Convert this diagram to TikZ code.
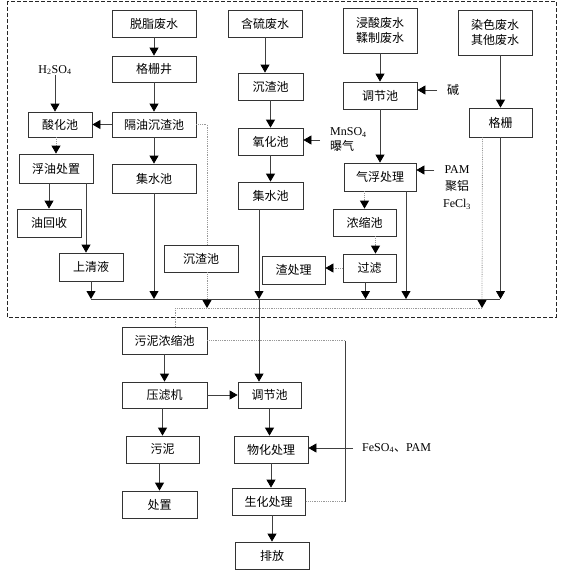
\documentclass[tikz,border=0pt]{standalone}
\usepackage{fontspec}
\setmainfont{Liberation Serif}
\newfontfamily\cjk{Noto Sans CJK SC}
\usetikzlibrary{arrows.meta, positioning, calc}

\tikzset{
  box/.style={draw=black!80, line width=0.8pt, minimum height=27pt, inner sep=1pt,
    align=center, font=\cjk\fontsize{12}{15}\selectfont},
  flow/.style={draw=black!75, line width=0.8pt},
  arr/.style={flow, -{Triangle[width=9pt,length=8pt,color=black]}},
  dotline/.style={draw=black!40, densely dotted, line width=0.8pt},
  dotarr/.style={dotline, -{Triangle[width=9pt,length=8pt,color=black]}},
  lbl/.style={inner sep=0pt, font=\fontsize{12}{15}\selectfont},
}

\begin{document}
\begin{tikzpicture}[x=1pt, y=-1pt]
  \useasboundingbox (0,0) rectangle (563,573);

  % Workshop boundary
  \draw[black!85, line width=0.8pt, dash pattern=on 4pt off 2pt] (7,1) rectangle (556,317);

  % Degreasing line
  \node[box, minimum width=84pt] (tzfs) at (154,23.5) {脱脂废水};
  \node[box, minimum width=84pt, minimum height=26pt] (gsj) at (154,69) {格栅井};
  \node[box, minimum width=84pt, minimum height=25pt] (gycz) at (154,124.5) {隔油沉渣池};
  \node[box, minimum width=64pt, minimum height=25pt] (shc) at (60,124.5) {酸化池};
  \node[lbl] (h2so4) at (55,70) {H\textsubscript{2}SO\textsubscript{4}};
  \node[box, minimum width=74pt, minimum height=29pt] (fycz) at (56,168.5) {浮油处置};
  \node[box, minimum width=84pt, minimum height=29pt] (jsc1) at (154,178.5) {集水池};
  \node[box, minimum width=64pt, minimum height=28pt] (yhs) at (49,223) {油回收};
  \node[box, minimum width=64pt, minimum height=28pt] (sqy) at (91,267) {上清液};
  \node[box, minimum width=74pt] (czc1) at (201,258.5) {沉渣池};

  % Sulphur line
  \node[box, minimum width=74pt] (hlfs) at (265,23.5) {含硫废水};
  \node[box, minimum width=65pt] (czc2) at (270.5,86.5) {沉渣池};
  \node[box, minimum width=65pt] (yhc) at (270.5,141.5) {氧化池};
  \node[box, minimum width=65pt] (jsc2) at (270.5,195.5) {集水池};
  \node[lbl, anchor=west, align=left] (mnso4) at (330,140) {MnSO\textsubscript{4}\\{\cjk 曝气}};
  \node[box, minimum width=63pt, minimum height=28pt] (zcl) at (293.5,270) {渣处理};

  % Pickling / tanning line
  \node[box, minimum width=74pt, minimum height=45pt] (jsfs) at (380,30.5) {浸酸废水\\鞣制废水};
  \node[box, minimum width=74pt] (tjc1) at (380,95.5) {调节池};
  \node[lbl, anchor=west, font=\cjk\fontsize{12}{15}\selectfont] (jian) at (447,90) {碱};
  \node[box, minimum width=72pt, minimum height=28pt] (qfcl) at (380,177) {气浮处理};
  \node[lbl] (pam) at (457,170) {PAM};
  \node[lbl, font=\cjk\fontsize{12}{15}\selectfont] (julv) at (457,186) {聚铝};
  \node[lbl] (fecl) at (457,204) {FeCl\textsubscript{3}};
  \node[box, minimum width=63pt] (nsc) at (364.5,222.5) {浓缩池};
  \node[box, minimum width=53pt, minimum height=28pt] (gl) at (369.5,268) {过滤};

  % Dyeing line
  \node[box, minimum width=74pt, minimum height=45pt] (rsfs) at (495,32.5) {染色废水\\其他废水};
  \node[box, minimum width=63pt, minimum height=29pt] (gs) at (500.5,122.5) {格栅};

  % Collecting lines
  \coordinate (mainL) at (91,299);
  \coordinate (mainR) at (500,299);
  \coordinate (dotL) at (175,308);
  \coordinate (dotR) at (482,308);
  \coordinate (c1) at (259,299);

  \draw[arr] (tzfs) -- (gsj);
  \draw[arr] (gsj) -- (gycz);
  \draw[arr] (gycz) -- (shc);
  \draw[arr] (h2so4.south) -- (h2so4.south |- shc.north);
  \draw[dotarr] (shc.south -| fycz.north) -- (fycz.north);
  \draw[arr] (fycz.south -| yhs.north) -- (yhs.north);
  \draw[arr] ([xshift=30pt]fycz.south) -- ([xshift=30pt]fycz.south |- sqy.north);
  \draw[arr] (sqy.south) -- (mainL);
  \draw[arr] (gycz) -- (jsc1);
  \draw[arr] (jsc1.south) -- (jsc1.south |- mainL);
  \draw[dotline] (gycz.east) -| ([xshift=6pt]czc1.north);
  \draw[dotarr] ([xshift=6pt]czc1.south) -- ([xshift=6pt]czc1.south |- dotL);

  \draw[arr] (hlfs.south) -- (hlfs.south |- czc2.north);
  \draw[arr] (czc2) -- (yhc);
  \draw[arr] (yhc) -- (jsc2);
  \draw[arr] ([xshift=-10pt]mnso4.west) -- (yhc.east |- mnso4.west);
  \draw[arr] (jsc2.south -| c1) -- (c1);

  \draw[arr] (jsfs) -- (tjc1);
  \draw[arr] ([xshift=-10pt]jian.west) -- (tjc1.east |- jian.west);
  \draw[arr] (tjc1) -- (qfcl);
  \draw[arr] ([xshift=-10pt]pam.west) -- (qfcl.east |- pam.west);
  \draw[dotarr] (qfcl.south -| nsc.north) -- (nsc.north);
  \draw[arr] ([xshift=26pt]qfcl.south) -- ([xshift=26pt]qfcl.south |- mainL);
  \draw[dotarr] ([xshift=6pt]gl.north |- nsc.south) -- ([xshift=6pt]gl.north);
  \draw[dotarr] (gl.west) -- (gl.west -| zcl.east);
  \draw[arr] ([xshift=-4pt]gl.south) -- ([xshift=-4pt]gl.south |- mainL);

  \draw[arr] (rsfs.south -| gs.north) -- (gs.north);
  \draw[arr] (gs.south) -- (gs.south |- mainL);
  \draw[dotarr] ([xshift=-18pt]gs.south) -- (dotR);

  \draw[flow] (mainL) -- (mainR);
  \draw[dotline] (dotR) -- (dotL);

  % Sludge and final treatment
  \node[box, minimum width=85pt] (wnnsc) at (164.5,340.5) {污泥浓缩池};
  \node[box, minimum width=85pt, minimum height=26pt] (ylj) at (164.5,395) {压滤机};
  \node[box, minimum width=63pt, minimum height=26pt] (tjc2) at (269.5,395) {调节池};
  \node[box, minimum width=73pt] (wn) at (162.5,449.5) {污泥};
  \node[box, minimum width=74pt] (whcl) at (271,449.5) {物化处理};
  \node[box, minimum width=75pt] (cz) at (159.5,504.5) {处置};
  \node[box, minimum width=73pt] (shcl) at (268.5,501.5) {生化处理};
  \node[box, minimum width=74pt] (pf) at (272,555.5) {排放};
  \node[lbl, anchor=west] (feso) at (362,448) {FeSO\textsubscript{4}{\cjk 、}PAM};
  \coordinate (side) at (345,420);

  \draw[dotline] (dotL) -- (wnnsc.north -| dotL);
  \draw[arr] (c1) -- (tjc2.north -| c1);
  \draw[arr] (wnnsc) -- (ylj);
  \draw[arr] (ylj) -- (tjc2);
  \draw[arr] (ylj.south -| wn.north) -- (wn.north);
  \draw[arr] (wn.south -| cz.north) -- (cz.north);
  \draw[arr] (tjc2) -- (tjc2 |- whcl.north);
  \draw[arr] (whcl.south) -- (whcl.south |- shcl.north);
  \draw[arr] (shcl.south -| pf.north) -- (pf.north);
  \draw[dotline] (wnnsc.east) -- (wnnsc.east -| side);
  \draw[flow] (wnnsc.east -| side) -- (shcl.east -| side);
  \draw[dotline] (shcl.east -| side) -- (shcl.east);
  \draw[arr] ([xshift=-9pt]feso.west) -- (whcl.east |- feso.west);
\end{tikzpicture}
\end{document}
